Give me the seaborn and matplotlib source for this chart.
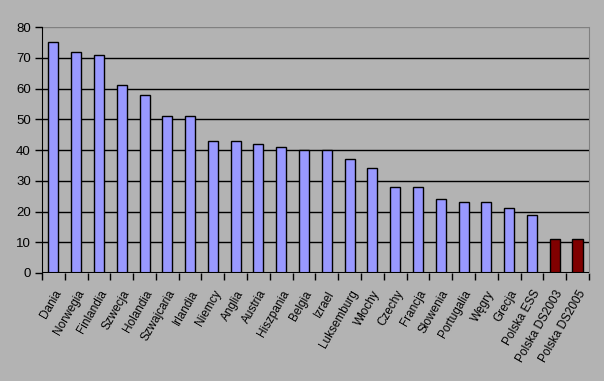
import matplotlib
matplotlib.use("Agg")
import matplotlib.pyplot as plt
import seaborn as sns
import pandas as pd

countries = ["Dania", "Norwegia", "Finlandia", "Szwecja", "Holandia", "Szwajcaria",
             "Irlandia", "Niemcy", "Anglia", "Austria", "Hiszpania", "Belgia",
             "Izrael", "Luksemburg", "Włochy", "Czechy", "Francja", "Słowenia",
             "Portugalia", "Węgry", "Grecja", "Polska ESS", "Polska DS2003",
             "Polska DS2005"]
values = [75, 72, 71, 61, 58, 51, 51, 43, 43, 42, 41, 40, 40, 37, 34, 28, 28,
          24, 23, 23, 21, 19, 11, 11]
groups = ["ess"] * 22 + ["ds"] * 2

df = pd.DataFrame({"kraj": countries, "wartosc": values, "grupa": groups})

sns.set_style("white")
plt.rcParams["font.family"] = ["Liberation Sans", "DejaVu Sans"]
plt.rcParams["text.color"] = "black"
plt.rcParams["xtick.color"] = "black"
plt.rcParams["ytick.color"] = "black"

bg = "#b3b3b3"
fig = plt.figure(figsize=(6.04, 3.81), dpi=100, facecolor=bg)
ax = fig.add_axes([0.0695, 0.2835, 0.9055, 0.6455])
ax.set_facecolor(bg)

sns.barplot(data=df, x="kraj", y="wartosc", hue="grupa",
            palette={"ess": "#9999ff", "ds": "#800000"}, dodge=False,
            saturation=1, width=0.44, edgecolor="black", linewidth=1.0,
            legend=False, ax=ax, zorder=3)

ax.set_ylim(0, 80)
ax.set_xlim(-0.5, len(countries) - 0.5)
ax.set_yticks(range(0, 81, 10))
for y in range(10, 80, 10):
    ax.axhline(y, color="black", linewidth=1.0, zorder=1)
ax.axhline(80, color="#808080", linewidth=1.0, zorder=1)

ax.set_xlabel("")
ax.set_ylabel("")
for side in ["top", "bottom", "left", "right"]:
    ax.spines[side].set_visible(False)
ax.spines["left"].set_visible(True)
ax.spines["left"].set_color("black")
ax.spines["right"].set_visible(True)
ax.spines["right"].set_color("#808080")
ax.axhline(0, color="black", linewidth=1.5, zorder=4)

# x ticks at category boundaries, labels at centres
ax.set_xticks([i - 0.5 for i in range(len(countries) + 1)], minor=True)
ax.set_xticks(range(len(countries)))
ax.set_xticklabels(countries, rotation=60, ha="right", rotation_mode="anchor",
                   fontsize=8.5)
ax.tick_params(axis="x", which="major", length=0, pad=11, labelcolor="black")
ax.tick_params(axis="x", which="minor", length=5, width=1, color="black",
               direction="out", bottom=True)
ax.tick_params(axis="y", length=5, width=1, color="black", direction="out",
               left=True, labelsize=9.5, pad=3, labelcolor="black")

plt.savefig("out.png", dpi=100, facecolor=bg)
